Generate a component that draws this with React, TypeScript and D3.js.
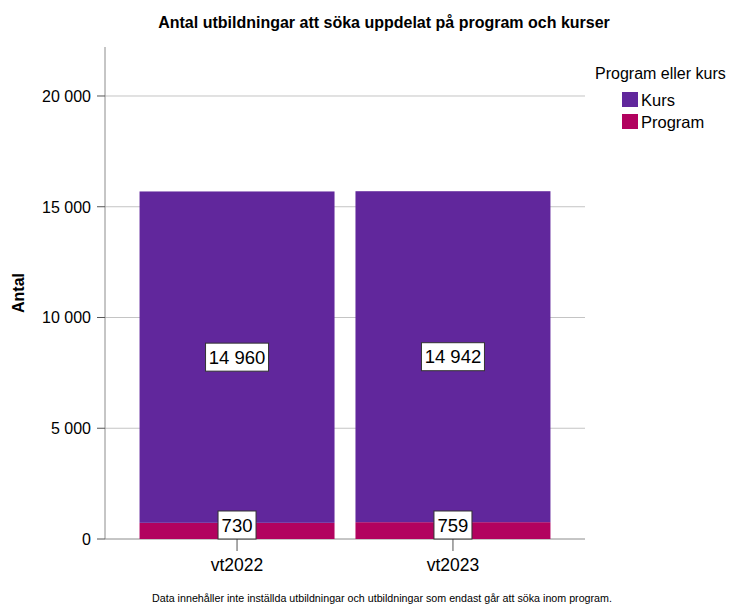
import React, { useEffect } from "react";
import * as d3 from "d3";

// Data
const terms = ["vt2022", "vt2023"];
const kursValues = [14960, 14942];
const programValues = [730, 759];
const seriesNames = ["Kurs", "Program"];
const seriesColors = ["#61279c", "#b2025f"];
const yTicks = [0, 5000, 10000, 15000, 20000];

const W = 736;
const H = 604;
const margin = { top: 47, right: 151, bottom: 65, left: 105 };
const font = "'Liberation Sans', Arial, sans-serif";

const fmt = (v: number) => d3.format(",")(v).replace(/,/g, " ");

export default function App() {
  useEffect(() => {
    document.body.style.margin = "0";
    document.body.style.overflow = "hidden";
  }, []);

  const x = d3
    .scaleBand<string>()
    .domain(terms)
    .range([margin.left, W - margin.right])
    .paddingInner(0.097)
    .paddingOuter(0.16);

  const y = d3
    .scaleLinear()
    .domain([0, 22212])
    .range([H - margin.bottom, margin.top]);

  // stack: Program at the bottom, Kurs above
  const rows = terms.map((t, i) => ({
    term: t,
    Program: programValues[i],
    Kurs: kursValues[i],
  }));
  const stack = d3.stack<any>().keys(["Program", "Kurs"])(rows);

  const y0 = y(0);
  const boxH = 28;

  return (
    <svg width={W} height={H} style={{ display: "block", fontFamily: font }}>
      <rect width={W} height={H} fill="#ffffff" />
      <text
        x={384}
        y={28}
        textAnchor="middle"
        fontSize={16}
        fontWeight="bold"
        fill="#000"
      >
        Antal utbildningar att söka uppdelat på program och kurser
      </text>

      {/* grid lines */}
      {yTicks.map((t) => (
        <line
          key={"g" + t}
          x1={margin.left}
          x2={W - margin.right}
          y1={y(t)}
          y2={y(t)}
          stroke={t === 0 ? "#8c8c8c" : "#c4c4c4"}
          strokeWidth={1}
        />
      ))}

      {/* bars */}
      {stack.map((layer) => {
        const color = layer.key === "Kurs" ? seriesColors[0] : seriesColors[1];
        return layer.map((d, i) => (
          <rect
            key={layer.key + i}
            x={x(terms[i])}
            y={y(d[1])}
            width={x.bandwidth()}
            height={y(d[0]) - y(d[1])}
            fill={color}
          />
        ));
      })}

      {/* y axis */}
      <line
        x1={margin.left}
        x2={margin.left}
        y1={margin.top}
        y2={y0}
        stroke="#8c8c8c"
      />
      {yTicks.map((t) => (
        <g key={"t" + t}>
          <line
            x1={margin.left - 8}
            x2={margin.left}
            y1={y(t)}
            y2={y(t)}
            stroke="#555"
          />
          <text
            x={margin.left - 14}
            y={y(t)}
            dy="0.36em"
            textAnchor="end"
            fontSize={16}
            fill="#000"
          >
            {fmt(t)}
          </text>
        </g>
      ))}
      <text
        transform={`translate(24,${(margin.top + y0) / 2}) rotate(-90)`}
        textAnchor="middle"
        fontSize={16}
        fontWeight="bold"
        fill="#000"
      >
        Antal
      </text>

      {/* x axis ticks + labels */}
      {terms.map((t) => {
        const cx = (x(t) as number) + x.bandwidth() / 2;
        return (
          <g key={"x" + t}>
            <line x1={cx} x2={cx} y1={y0} y2={y0 + 12} stroke="#555" />
            <text
              x={cx}
              y={y0 + 32}
              textAnchor="middle"
              fontSize={17.5}
              fill="#000"
            >
              {t}
            </text>
          </g>
        );
      })}

      {/* value labels */}
      {stack.map((layer) =>
        layer.map((d, i) => {
          const cx = (x(terms[i]) as number) + x.bandwidth() / 2;
          const v = d[1] - d[0];
          const label = fmt(v);
          let cy = (y(d[0]) + y(d[1])) / 2;
          if (cy + boxH / 2 > y0) cy = y0 - boxH / 2;
          const bw = label.length * 10 + 8 - (label.includes(" ") ? 5 : 0);
          return (
            <g key={"l" + layer.key + i}>
              <rect
                x={cx - bw / 2}
                y={cy - boxH / 2}
                width={bw}
                height={boxH}
                fill="#ffffff"
                stroke="#333"
                strokeWidth={1}
              />
              <text
                x={cx}
                y={cy}
                dy="0.36em"
                textAnchor="middle"
                fontSize={18.5}
                fill="#000"
              >
                {label}
              </text>
            </g>
          );
        })
      )}

      {/* legend */}
      <text x={595} y={79} fontSize={16} fill="#000">
        Program eller kurs
      </text>
      {seriesNames.map((s, i) => (
        <g key={"leg" + s}>
          <rect
            x={622}
            y={92 + i * 22}
            width={16}
            height={15}
            fill={seriesColors[i]}
          />
          <text x={641} y={100 + i * 22} dy="0.36em" fontSize={16.5} fill="#000">
            {s}
          </text>
        </g>
      ))}

      {/* footnote */}
      <text x={382} y={602} textAnchor="middle" fontSize={10.7} fill="#000">
        Data innehåller inte inställda utbildningar och utbildningar som endast
        går att söka inom program.
      </text>
    </svg>
  );
}
